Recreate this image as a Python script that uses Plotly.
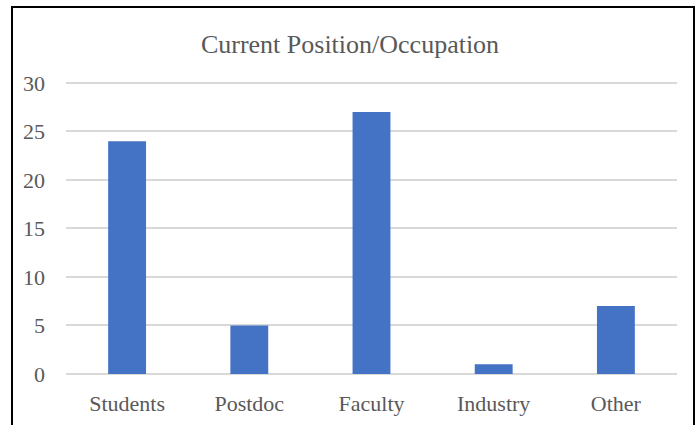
import plotly.graph_objects as go

categories = ["Students", "Postdoc", "Faculty", "Industry", "Other"]
counts = [24, 5, 27, 1, 7]
y_ticks = [0, 5, 10, 15, 20, 25, 30]

W, H = 700, 425
L, R, T, B = 66, 23, 80, 51
pw, ph = W - L - R, H - T - B

def px_x(p):
    return (p - L) / pw

def px_y(p):
    return (H - B - p) / ph

fig = go.Figure(go.Bar(
    x=categories, y=counts,
    marker=dict(color="#4472C4", line=dict(width=0)),
))

font = "Liberation Serif, Times New Roman, serif"
fig.update_layout(
    width=W, height=H,
    margin=dict(l=L, r=R, t=T, b=B, autoexpand=False),
    paper_bgcolor="white", plot_bgcolor="white",
    bargap=0.69,
    showlegend=False,
    font=dict(family=font, color="#595959", size=22),
    title=dict(text="Current Position/Occupation", x=0.5, xanchor="center",
               y=1 - 44 / H, yanchor="middle", yref="container",
               font=dict(family=font, size=26, color="#595959")),
    xaxis=dict(showline=False, showgrid=False, ticks="", automargin=False,
               ticklabelstandoff=14,
               tickfont=dict(family=font, size=22, color="#595959")),
    yaxis=dict(range=[0, 30.3], tickvals=y_ticks, showgrid=True,
               gridcolor="#d9d9d9", gridwidth=1.5, zeroline=True,
               zerolinecolor="#d9d9d9", zerolinewidth=1.5, automargin=False,
               showline=False, ticks="", ticklabelstandoff=20,
               tickfont=dict(family=font, size=22, color="#595959")),
    shapes=[dict(type="rect", xref="paper", yref="paper",
                 x0=px_x(12), x1=px_x(694), y0=px_y(445), y1=px_y(7),
                 line=dict(color="black", width=2), fillcolor="rgba(0,0,0,0)",
                 layer="above")],
)

fig.write_html("out.html", config={"displayModeBar": False},
               post_script="document.body.style.margin='0';document.body.style.overflow='hidden';")
